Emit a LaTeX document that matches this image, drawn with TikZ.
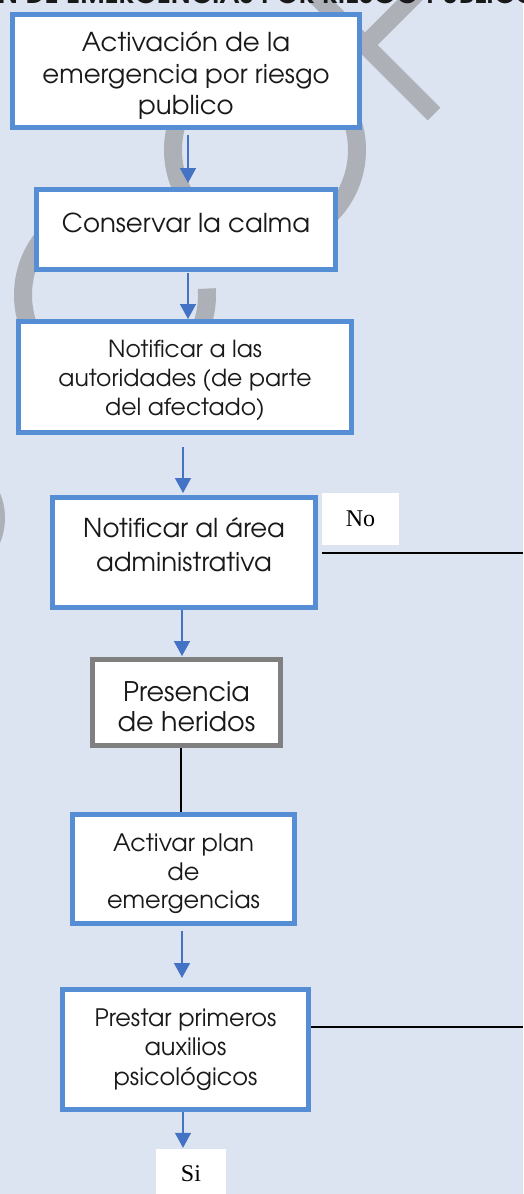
\documentclass[tikz,border=0pt]{standalone}
\usepackage{fontspec}
\setmainfont{texgyreadventor}[Extension=.otf, UprightFont=*-regular, BoldFont=*-bold]
\newfontfamily\serifletra{Liberation Serif}
\usetikzlibrary{arrows.meta}

\definecolor{fondo}{RGB}{219,228,240}
\definecolor{azulborde}{RGB}{85,142,213}
\definecolor{azulflecha}{RGB}{68,114,196}
\definecolor{marcagris}{RGB}{173,176,182}
\definecolor{texto}{RGB}{25,25,25}

\tikzset{
  paso/.style = {draw=azulborde, line width=5pt, fill=white, text=texto,
    align=center, inner sep=0pt},
  flecha/.style = {draw=azulflecha, line width=1.5pt,
    -{Triangle[width=16pt,length=15pt]}},
  linea/.style = {draw=black, line width=1.3pt},
  etiqueta/.style = {fill=white, inner sep=0pt,
    font=\serifletra\fontsize{24}{28}\selectfont},
  marca/.style = {draw=marcagris, line width=18pt},
  titulo/.style = {inner sep=0pt, text=texto, font=\fontsize{27}{30}\selectfont\bfseries}
}

\begin{document}
\begin{tikzpicture}[x=1pt, y=-1pt]
  \useasboundingbox (0,0) rectangle (523,1194);
  \fill[fondo] (0,0) rectangle (523,1194);
  \clip (0,0) rectangle (523,1194);

  % marca de agua
  \draw[marca] (290,-30) -- (434,114);
  \draw[marca] (365,45) -- (420,-10);
  \draw[marca] (265,150) circle[radius=92];
  \draw[marca] (115,295) ++(-4:92) arc[start angle=-4, end angle=316, radius=92];
  \draw[marca] (-60,518) circle[radius=56];

  \node[titulo, anchor=base west] (titulo) at (-2,3) {N DE EMERGENCIAS POR RIESGO PÚBLICO};

  % pasos
  \node[paso, minimum width=347pt, minimum height=113pt,
    font=\fontsize{26}{31.5}\selectfont] (activacion) at (186,71)
    {\rule{0pt}{29pt}Activación de la\\emergencia por riesgo\\publico};
  \node[paso, minimum width=299pt, minimum height=80pt,
    font=\fontsize{26}{31}\selectfont] (calma) at (186,229.5)
    {Conservar la calma\\[-18pt]\mbox{}};
  \node[paso, minimum width=333pt, minimum height=111pt,
    font=\fontsize{23.5}{29}\selectfont] (autoridades) at (185,377)
    {\rule{0pt}{23.5pt}Notificar a las\\autoridades (de parte\\del afectado)};
  \node[paso, minimum width=263pt, minimum height=110pt,
    font=\fontsize{26}{33.5}\selectfont] (area) at (184,552.5)
    {Notificar al área\\administrativa\\[-18pt]\mbox{}};
  \node[paso, draw=gray, minimum width=188pt, minimum height=86pt,
    font=\fontsize{27}{30}\selectfont] (heridos) at (186.5,702.5)
    {\rule{0pt}{28pt}Presencia\\de heridos};
  \node[paso, minimum width=222pt, minimum height=109pt,
    font=\fontsize{24}{28.5}\selectfont] (plan) at (183.5,869)
    {\rule{0pt}{28pt}Activar plan\\de\\emergencias};
  \node[paso, minimum width=246pt, minimum height=120pt,
    font=\fontsize{24}{29.5}\selectfont] (auxilios) at (185.5,1049.5)
    {Prestar primeros\\auxilios\\psicológicos};

  % etiquetas
  \node[etiqueta, minimum width=77pt, minimum height=52pt] (no) at (360.5,519) {No};
  \node[etiqueta, minimum width=70pt, minimum height=50pt] (si) at (191,1174) {Si};
  \coordinate (finNo) at (523,553);
  \coordinate (finSi) at (523,1027);

  % conectores
  \draw[flecha, shorten <=5pt, shorten >=4pt] ([xshift=2pt]activacion.south)
    -- ([xshift=2pt]activacion.south |- calma.north);
  \draw[flecha, shorten <=1pt] ([xshift=2pt]calma.south)
    -- ([xshift=2pt]calma.south |- autoridades.north);
  \draw[flecha, shorten <=12pt, shorten >=2pt] ([xshift=-2pt]autoridades.south)
    -- ([xshift=-2pt]autoridades.south |- area.north);
  \draw[flecha, shorten >=1pt] ([xshift=-2pt]area.south)
    -- ([xshift=-2pt]area.south |- heridos.north);
  \draw[linea] ([xshift=-5.5pt]heridos.south) -- ([xshift=-5.5pt]heridos.south |- plan.north);
  \draw[flecha, shorten <=5pt, shorten >=9pt] ([xshift=-1.5pt]plan.south)
    -- ([xshift=-1.5pt]plan.south |- auxilios.north);
  \draw[flecha, shorten >=1pt] ([xshift=-2.5pt]auxilios.south)
    -- ([xshift=-2.5pt]auxilios.south |- si.north);
  \draw[linea, shorten <=4pt] (area.east |- finNo) -- (finNo);
  \draw[linea] (auxilios.east |- finSi) -- (finSi);
\end{tikzpicture}
\end{document}
